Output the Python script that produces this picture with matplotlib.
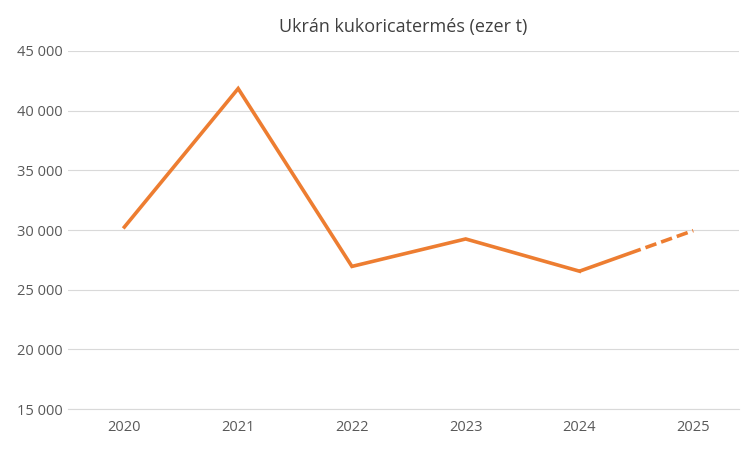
import matplotlib
matplotlib.use('Agg')
import matplotlib.pyplot as plt
from matplotlib.ticker import FuncFormatter

years = [2020, 2021, 2022, 2023, 2024, 2025]
values = [30250, 41850, 26950, 29250, 26550, 29950]

plt.rcParams['font.family'] = ['Open Sans', 'DejaVu Sans']
fig = plt.figure(figsize=(7.5, 4.51), dpi=100)
ax = fig.add_axes([0.09, 0.093, 0.895, 0.794])

color = '#ED7D31'
ax.plot(years[:5], values[:5], color=color, lw=2.6, solid_joinstyle='miter', zorder=3)
ax.plot(years[4:], values[4:], color=color, lw=2.6,
        dashes=(18, 1.4, 3.2, 1.4, 3.2, 1.4, 3.2, 1.4, 3.2, 1.4), zorder=3)

ax.set_xlim(2019.5, 2025.4)
ax.set_ylim(15000, 45000)
ax.set_yticks(range(15000, 45001, 5000))
ax.yaxis.set_major_formatter(FuncFormatter(lambda v, p: f'{int(v):,}'.replace(',', ' ')))
ax.grid(axis='y', color='#D9D9D9', lw=0.8)
ax.set_axisbelow(True)
for s in ['top', 'right', 'left']:
    ax.spines[s].set_visible(False)
ax.spines['bottom'].set_color('#D9D9D9')
ax.tick_params(length=0, colors='#595959', labelsize=10.5)
ax.tick_params(axis='x', pad=8)
ax.set_title('Ukrán kukoricatermés (ezer t)', color='#404040', fontsize=13, pad=14)

fig.savefig('out.png', dpi=100)
